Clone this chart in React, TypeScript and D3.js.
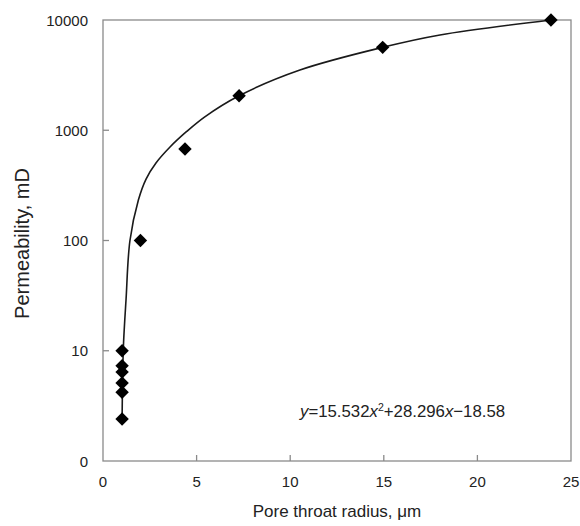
import React from "react";
import * as d3 from "d3";

const pointX = [1.02, 1.02, 1.02, 1.02, 1.02, 1.02, 2.0, 4.38, 7.27, 14.94, 23.93];
const pointY = [10, 7.3, 6.4, 5.1, 4.2, 2.4, 100, 676, 2057, 5650, 10000];

const curveX = [1.02, 1.05, 1.1, 1.23, 1.44, 1.89, 2.3, 2.83, 3.58, 4.47, 5.42, 7.27, 10.52, 14.94, 18.0, 23.93];
const curveY = [2.4, 6, 12, 29, 100, 233, 361, 505, 705, 975, 1318, 2057, 3518, 5650, 7310, 10000];

const xTicks = [0, 5, 10, 15, 20, 25];
const yTicks = [1, 10, 100, 1000, 10000];
const yTickLabels = ["0", "10", "100", "1000", "10000"];

const W = 580;
const H = 526;
const M = { left: 103, right: 571, top: 20, bottom: 461 };
const FONT = "'Liberation Sans', Arial, sans-serif";

export default function App() {
  const x = d3.scaleLinear().domain([0, 25]).range([M.left, M.right]);
  const y = d3.scaleLog().domain([1, 10000]).range([M.bottom, M.top]);
  const line = d3
    .line<number>()
    .x((_, i) => x(curveX[i]))
    .y((_, i) => y(curveY[i]))
    .curve(d3.curveCatmullRom.alpha(0.5));
  const sym = d3.symbol().type(d3.symbolSquare).size(90)();
  const axisColor = "#8a8a8a";
  const textColor = "#222";
  return (
    <svg width={W} height={H} style={{ position: "absolute", left: 0, top: 0 }}>
      <rect width={W} height={H} fill="#fff" />
      <rect
        x={M.left}
        y={M.top}
        width={M.right - M.left}
        height={M.bottom - M.top}
        fill="none"
        stroke={axisColor}
        strokeWidth={1.3}
      />
      {xTicks.map((t) => (
        <g key={"x" + t}>
          {t > 0 && t < 25 && (
            <line x1={x(t)} x2={x(t)} y1={M.bottom} y2={M.bottom - 6} stroke={axisColor} strokeWidth={1.3} />
          )}
          <text x={x(t)} y={M.bottom + 26} textAnchor="middle" fontFamily={FONT} fontSize={15} fill={textColor}>
            {t}
          </text>
        </g>
      ))}
      {yTicks.map((t, i) => (
        <g key={"y" + t}>
          {i > 0 && i < yTicks.length - 1 && (
            <line x1={M.left} x2={M.left + 6} y1={y(t)} y2={y(t)} stroke={axisColor} strokeWidth={1.3} />
          )}
          <text x={88} y={y(t) + 5.5} textAnchor="end" fontFamily={FONT} fontSize={15} fill={textColor}>
            {yTickLabels[i]}
          </text>
        </g>
      ))}
      <path d={line(curveX) || ""} fill="none" stroke="#1a1a1a" strokeWidth={1.6} />
      {pointX.map((px, i) => (
        <path
          key={"p" + i}
          d={sym || ""}
          transform={`translate(${x(px)},${y(pointY[i])}) rotate(45)`}
          fill="#000"
        />
      ))}
      <text x={300} y={417} fontFamily={FONT} fontSize={16.8} fill={textColor}>
        <tspan fontStyle="italic">y</tspan>
        <tspan>=15.532</tspan>
        <tspan fontStyle="italic">x</tspan>
        <tspan dy={-6} fontSize={10.5}>2</tspan>
        <tspan dy={6}>+28.296</tspan>
        <tspan fontStyle="italic">x</tspan>
        <tspan>−18.58</tspan>
      </text>
      <text x={(M.left + M.right) / 2} y={517} textAnchor="middle" fontFamily={FONT} fontSize={17} fill={textColor}>
        Pore throat radius, μm
      </text>
      <text
        transform={`translate(29,${(M.top + M.bottom) / 2 + 3}) rotate(-90)`}
        textAnchor="middle"
        fontFamily={FONT}
        fontSize={20}
        fill={textColor}
      >
        Permeability, mD
      </text>
    </svg>
  );
}
